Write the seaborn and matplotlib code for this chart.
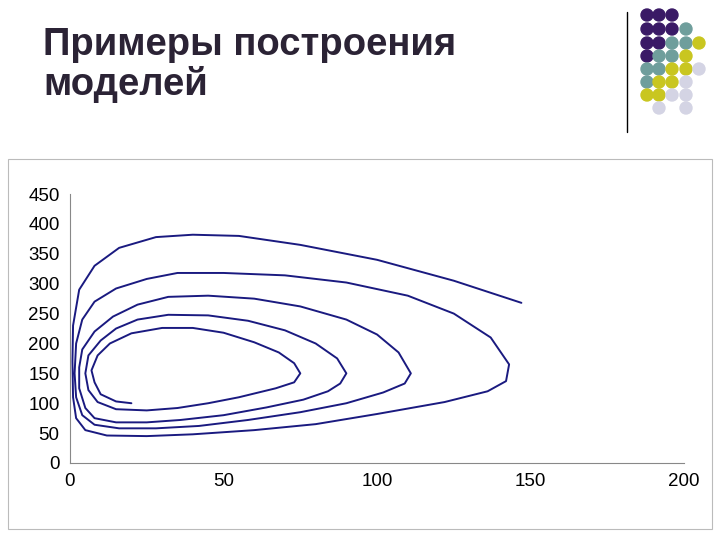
import numpy as np
import pandas as pd
import matplotlib
matplotlib.use('Agg')
import matplotlib.pyplot as plt
import seaborn as sns

# phase trajectory (prey x, predator y)
traj_x = [20, 15, 10, 8, 7, 9, 13, 20, 30, 40, 50, 60, 68, 73, 75, 73, 67, 55, 45, 35, 25,
          15, 9, 6, 5, 6, 10, 15, 22, 32, 45, 58, 70, 80, 87, 90, 88, 84, 76, 64, 50, 36, 25, 15,
          8, 5, 3, 3, 4, 8, 14, 22, 32, 45, 60, 75, 90, 100, 107, 111, 109, 102, 90, 75, 58, 42, 28, 16,
          8, 4, 2, 1.5, 2, 4, 8, 15, 25, 35, 50, 70, 90, 110, 125, 137, 143, 142, 136, 122, 100, 80, 60, 40, 25, 12,
          5, 2, 1, 0.8, 1, 3, 8, 16, 28, 40, 55, 75, 100, 125, 147]
traj_y = [100, 103, 115, 135, 155, 180, 200, 217, 226, 226, 218, 202, 185, 167, 150, 135, 125, 110, 100, 92, 88,
          90, 102, 122, 150, 180, 205, 225, 240, 248, 247, 238, 222, 200, 175, 150, 133, 120, 106, 93, 80, 72, 68, 68,
          75, 92, 125, 160, 190, 220, 245, 265, 278, 280, 275, 262, 240, 215, 185, 150, 133, 118, 100, 85, 72, 62, 58, 58,
          64, 80, 110, 150, 200, 240, 270, 292, 308, 318, 318, 314, 302, 280, 250, 210, 165, 137, 120, 102, 82, 65, 55, 48, 45, 46,
          55, 75, 110, 170, 230, 290, 330, 360, 378, 382, 380, 365, 340, 305, 268]

dot_rows = ["PPP", "PPPT", "PPTTY", "PTTY", "TTYYL", "TYYL", "YYLL", " L L"]
dot_colors = {"P": "#3a1a66", "T": "#6f9e9c", "Y": "#c9c620", "L": "#d4d4e4"}

df = pd.DataFrame({"x": traj_x, "y": traj_y})

sns.set_style("white")
plt.rcParams['font.family'] = ['Liberation Sans', 'DejaVu Sans']
fig = plt.figure(figsize=(7.2, 5.4), dpi=100)

fig.text(0.06, 0.95, "Примеры построения\nмоделей", fontsize=27.5, fontweight="bold",
         color="#2b2335", va="top", linespacing=1.12)
fig.add_artist(plt.Line2D([0.871, 0.871], [0.755, 0.978], color="black", lw=1))
xs = [647, 659, 672, 686, 699]
ys = [15, 29, 43, 56, 69, 82, 95, 108]
for r, row in enumerate(dot_rows):
    for c, ch in enumerate(row):
        if ch != " ":
            fig.add_artist(matplotlib.patches.Ellipse((xs[c] / 720, 1 - ys[r] / 540), 12 / 720, 12 / 540,
                                                      color=dot_colors[ch], transform=fig.transFigure))

fig.add_artist(matplotlib.patches.Rectangle((0.011, 0.02), 0.978, 0.685, fill=False,
                                            edgecolor="#bbbbbb", lw=0.8, transform=fig.transFigure))

ax = fig.add_axes([0.0972, 0.1426, 0.853, 0.498])
sns.lineplot(data=df, x="x", y="y", sort=False, estimator=None, color="#1a1a80", lw=1.4, ax=ax)
ax.set_xlim(0, 200)
ax.set_ylim(0, 450)
ax.set_xticks(range(0, 201, 50))
ax.set_yticks(range(0, 451, 50))
ax.set_xlabel("")
ax.set_ylabel("")
for s in ["top", "right"]:
    ax.spines[s].set_visible(False)
for s in ["left", "bottom"]:
    ax.spines[s].set_color("#888888")
ax.tick_params(labelsize=13.5, length=4, direction="out", colors="black")

fig.savefig("out.png", dpi=100)
